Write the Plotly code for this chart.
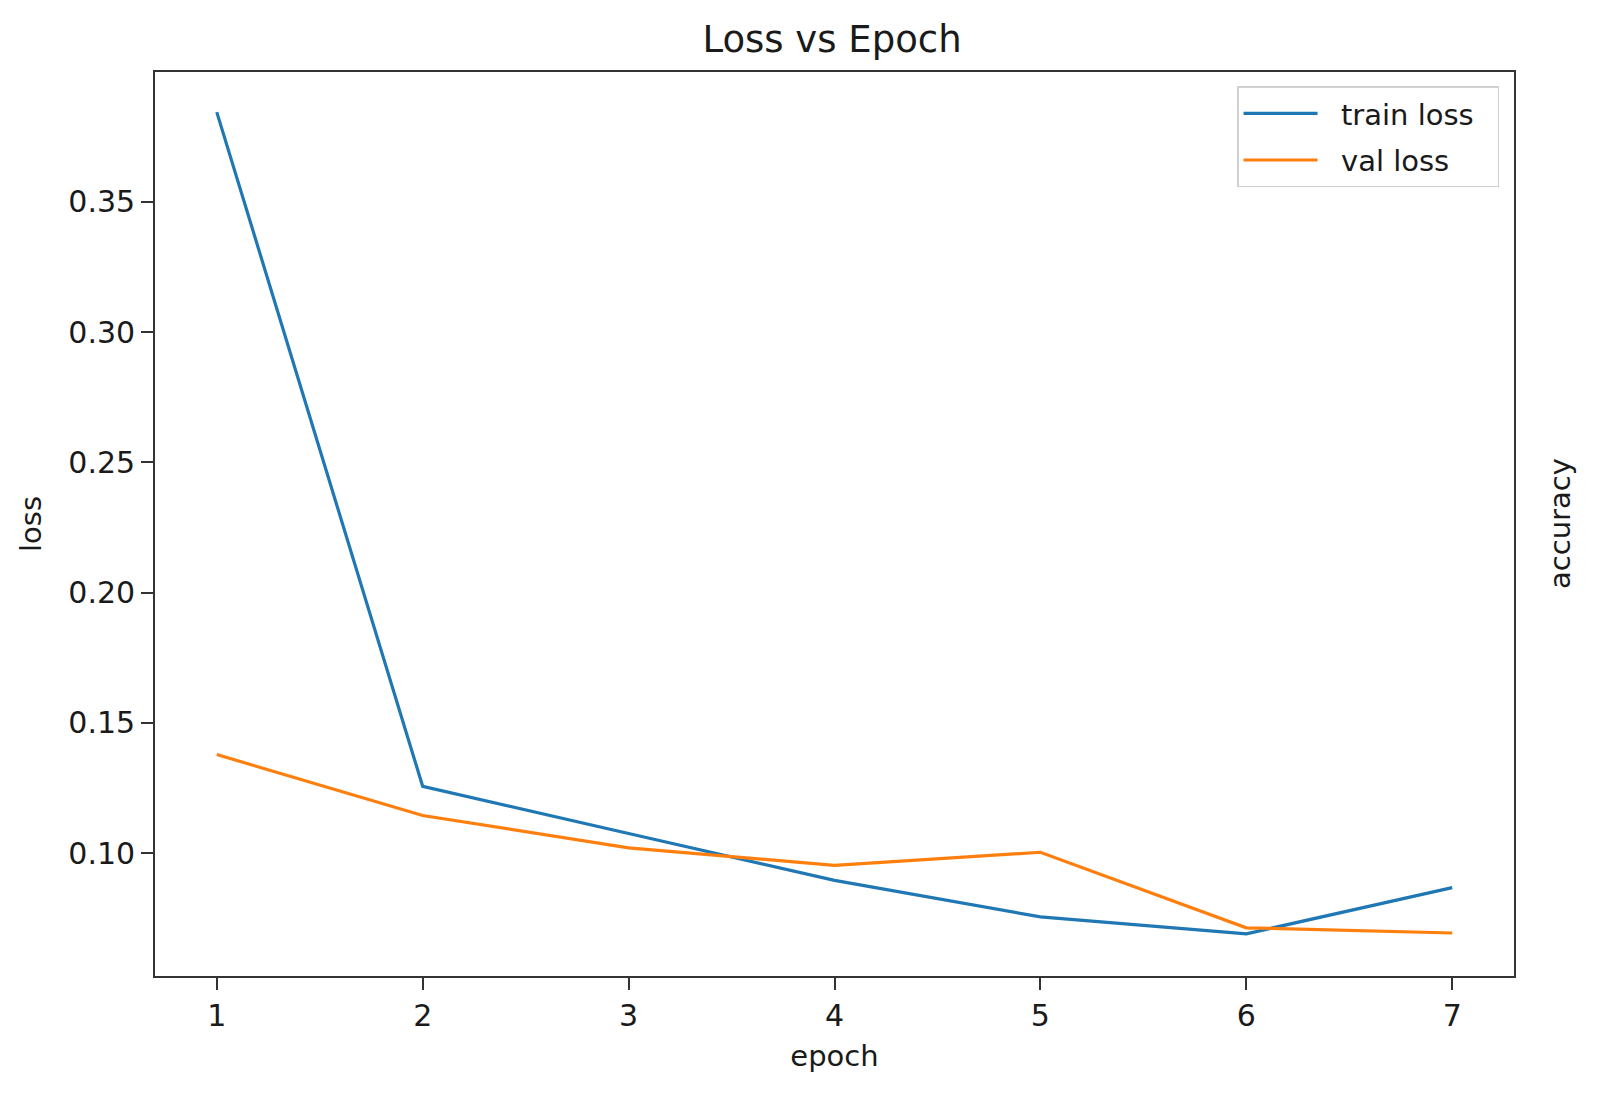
import plotly.graph_objects as go

epochs = [1, 2, 3, 4, 5, 6, 7]
train_loss = [0.3844, 0.1256, 0.1075, 0.0895, 0.0755, 0.0690, 0.0867]
val_loss = [0.1378, 0.1144, 0.1020, 0.0953, 0.1003, 0.0713, 0.0693]

title_text = "Loss vs Epoch"
x_title = "epoch"
y_title = "loss"
y2_title = "accuracy"
series_names = ["train loss", "val loss"]
y_ticks = [0.10, 0.15, 0.20, 0.25, 0.30, 0.35]

FONT = "DejaVu Sans"
TXT = "#1a1a1a"
AX = "#333333"
NB = "\u00a0"

fig = go.Figure()
fig.add_trace(go.Scatter(x=epochs, y=train_loss, mode="lines",
                         name=NB * 2 + series_names[0] + NB * 2, legendgroup="a",
                         line=dict(color="#1f77b4", width=3.2)))
fig.add_trace(go.Scatter(x=epochs, y=val_loss, mode="lines",
                         name=NB * 2 + series_names[1] + NB * 2, legendgroup="b",
                         line=dict(color="#ff7f0e", width=3.2)))

# page body adds an 8px offset, so the figure is 8px smaller in each direction
fig.update_layout(
    width=1592, height=1086,
    paper_bgcolor="white", plot_bgcolor="white",
    margin=dict(l=147, r=86, t=64, b=118),
    font=dict(family=FONT, color=TXT, size=29),
    title=dict(text=title_text, x=0.5176, xanchor="center", y=0.9715, yanchor="middle",
               font=dict(size=37, family=FONT, color=TXT)),
    showlegend=True,
    legend=dict(x=0.989, xanchor="right", y=0.984, yanchor="top",
                bgcolor="rgba(255,255,255,0.8)", bordercolor="#d0d0d0", borderwidth=1.5,
                font=dict(size=29, family=FONT, color=TXT), itemwidth=74,
                tracegroupgap=6),
    xaxis=dict(range=[0.7, 7.3], tickmode="array", tickvals=epochs,
               ticktext=[str(e) for e in epochs],
               showgrid=False, zeroline=False, showline=True, mirror=True,
               linecolor=AX, linewidth=1.8, ticks="outside", ticklen=12,
               tickwidth=1.8, tickcolor=AX, tickfont=dict(size=30),
               title=dict(text=x_title, font=dict(size=29), standoff=14)),
    yaxis=dict(range=[0.0528, 0.3998], tickmode="array", tickvals=y_ticks,
               ticktext=[f"{v:.2f}" for v in y_ticks],
               showgrid=False, zeroline=False, showline=True, mirror=True,
               linecolor=AX, linewidth=1.8, ticks="outside", ticklen=12,
               tickwidth=1.8, tickcolor=AX, tickfont=dict(size=30),
               title=dict(text=y_title, font=dict(size=29), standoff=18)),
    annotations=[dict(text=y2_title, xref="paper", yref="paper", x=1.0, xshift=46,
                      xanchor="center", y=0.5, yanchor="middle", textangle=-90,
                      showarrow=False, font=dict(size=29, family=FONT, color=TXT))],
)

fig.write_html("out.html")
